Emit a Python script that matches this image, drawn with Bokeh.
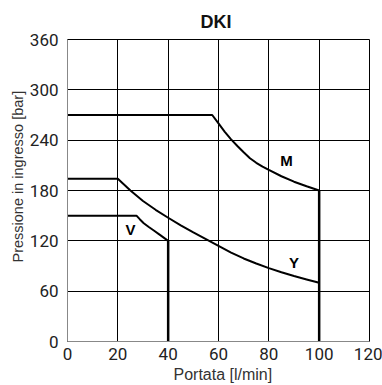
from bokeh.plotting import figure
from bokeh.models import Label, FixedTicker, Range1d, Title
from bokeh.embed import file_html
from bokeh.resources import INLINE

title = "DKI"
x_label = "Portata [l/min]"
y_label = "Pressione in ingresso [bar]"
x_ticks = [0, 20, 40, 60, 80, 100, 120]
y_ticks = [0, 60, 120, 180, 240, 300, 360]

m_q = [0, 57.5, 60, 62.5, 65, 67.5, 70, 72.5, 75, 77.5, 80, 85, 90, 95, 100]
m_p = [270, 270, 260, 250, 241, 233, 225.5, 218.5, 213, 208.5, 204.5, 197, 190.5, 185, 180]
y_q = [0, 20, 25, 30, 35, 40, 45, 50, 55, 60, 65, 70, 75, 80, 85, 90, 95, 100]
y_p = [194, 194, 180, 167.5, 157, 147.5, 138.5, 130, 122, 114, 106, 99, 93, 87.5, 82.5, 78, 74, 70]
v_q = [0, 27.4, 28.8, 30.3, 32.3, 34.3, 37, 40]
v_p = [150, 150, 145.5, 141, 136.5, 132.3, 126.5, 120]

limit_q = [40, 100]
limit_p = [120, 180]

curve_labels = ["M", "Y", "V"]
label_q = [87, 90, 25]
label_p = [215.5, 94.5, 133]

p = figure(width=382, height=385, output_backend="svg", toolbar_location=None,
           x_range=Range1d(0, 120), y_range=Range1d(0, 360),
           min_border_left=67, min_border_right=13, min_border_top=39, min_border_bottom=44)

p.title.text = title
p.title.align = "left"
p.title.offset = 133
p.title.text_font = "Liberation Sans"
p.title.text_font_size = "18px"
p.title.text_font_style = "bold"
p.title.text_color = "#111111"
p.title.standoff = 15

p.outline_line_color = "black"
p.outline_line_width = 1
p.background_fill_color = "white"
p.border_fill_color = "white"

for ax in (p.xaxis[0], p.yaxis[0]):
    ax.major_tick_line_color = None
    ax.minor_tick_line_color = None
    ax.axis_line_color = "#888888"
    ax.major_label_text_font = "Roboto"
    ax.major_label_text_font_size = "17px"
    ax.major_label_text_color = "#222222"

p.xaxis[0].major_label_standoff = 0
p.yaxis[0].major_label_standoff = 3

p.xaxis[0].ticker = FixedTicker(ticks=x_ticks)
p.yaxis[0].ticker = FixedTicker(ticks=y_ticks)

xt = Title(text=x_label, align="left", offset=106, standoff=2,
           text_font="Liberation Sans", text_font_size="16px",
           text_font_style="normal", text_color="#333333")
p.add_layout(xt, "below")
yt = Title(text=y_label, align="left", offset=79, standoff=2,
           text_font="Liberation Sans", text_font_size="14.5px",
           text_font_style="normal", text_color="#333333")
p.add_layout(yt, "left")

p.xgrid[0].ticker = FixedTicker(ticks=x_ticks)
p.ygrid[0].ticker = FixedTicker(ticks=y_ticks)
for g in (p.xgrid[0], p.ygrid[0]):
    g.grid_line_color = "black"
    g.grid_line_width = 1
    g.grid_line_alpha = 1

for q, pr in ((m_q, m_p), (y_q, y_p), (v_q, v_p)):
    p.line(q, pr, line_color="black", line_width=2, line_join="round")

p.segment(x0=limit_q, y0=[0, 0], x1=limit_q, y1=limit_p, line_color="black", line_width=2.5)

for t, q, pr in zip(curve_labels, label_q, label_p):
    p.add_layout(Label(x=q, y=pr, text=t, text_align="center", text_baseline="middle",
                       text_font="Liberation Sans", text_font_style="bold",
                       text_font_size="15px", text_color="black",
                       background_fill_color="white"))

open("out.html", "w").write(file_html(p, INLINE))
